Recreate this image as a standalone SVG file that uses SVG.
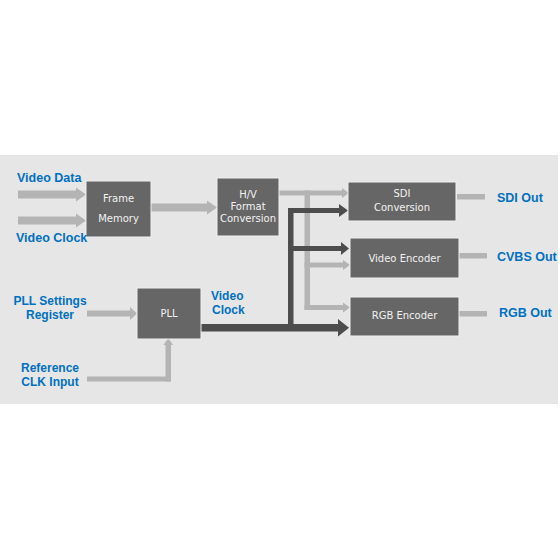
<svg xmlns="http://www.w3.org/2000/svg" width="560" height="560" viewBox="0 0 560 560">
<style>
.box{fill:#666666;stroke:#f0f0f0;stroke-width:1}
.nt{font-family:"DejaVu Sans",Verdana,sans-serif;font-size:10px;fill:#f2f2f2;text-anchor:middle}
.lb{font-family:"Liberation Sans",Arial,sans-serif;font-size:12.5px;font-weight:bold;fill:#0070c0}
.l2{font-size:12px}
.lt{fill:#b4b4b4}
.dk{fill:#4d4d4d}
</style>
<rect x="0" y="155" width="558" height="249" fill="#e6e6e6"/>
<g id="connectors">
  <rect class="lt" x="18" y="190.5" width="59" height="8"/>
  <polygon class="lt" points="76,187.5 86,194.5 76,201.5"/>
  <rect class="lt" x="18" y="216.5" width="59" height="8"/>
  <polygon class="lt" points="76,213.5 86,220.5 76,227.5"/>
  <rect class="lt" x="151" y="203.5" width="57" height="8"/>
  <polygon class="lt" points="207,200.5 217,207.5 207,214.5"/>
  <rect class="lt" x="279" y="190.5" width="64" height="5"/>
  <polygon class="lt" points="342,188 349,193 342,198"/>
  <rect class="lt" x="304.5" y="190.5" width="5.5" height="119.5"/>
  <rect class="lt" x="304.5" y="262.5" width="39" height="5"/>
  <polygon class="lt" points="343,260 350,265 343,270"/>
  <rect class="lt" x="304.5" y="305" width="39" height="5"/>
  <polygon class="lt" points="343,302.5 350,307.5 343,312.5"/>
  <rect class="lt" x="87" y="310.5" width="44" height="6"/>
  <polygon class="lt" points="130,307 137,313.5 130,320"/>
  <rect class="lt" x="87" y="376.5" width="84" height="5"/>
  <rect class="lt" x="165.5" y="344" width="5.5" height="37.5"/>
  <polygon class="lt" points="163.5,345 168.25,338 173,345"/>
  <rect class="dk" x="201" y="324" width="138" height="7.5"/>
  <polygon class="dk" points="338,319 349,327.75 338,336.5"/>
  <rect class="dk" x="288" y="208" width="5.5" height="123"/>
  <rect class="dk" x="288" y="208" width="52" height="5"/>
  <polygon class="dk" points="339,204 348,210.5 339,217"/>
  <rect class="dk" x="288" y="246" width="55" height="5"/>
  <polygon class="dk" points="341,242 349,248.5 341,255"/>
  <rect class="lt" x="457" y="194" width="28" height="5.5"/>
  <rect class="lt" x="459" y="253" width="28" height="5.5"/>
  <rect class="lt" x="459" y="311" width="28" height="5.5"/>
</g>
<g id="frame-memory">
  <rect class="box" x="86" y="181" width="65" height="56"/>
  <text class="nt" x="118.5" y="202">Frame</text>
  <text class="nt" x="118.5" y="222">Memory</text>
</g>
<g id="hv-format">
  <rect class="box" x="217" y="178" width="62" height="58"/>
  <text class="nt" x="248" y="198">H/V</text>
  <text class="nt" x="248" y="210">Format</text>
  <text class="nt" x="248" y="222">Conversion</text>
</g>
<g id="sdi-conversion">
  <rect class="box" x="348" y="182" width="108" height="39"/>
  <text class="nt" x="402" y="197">SDI</text>
  <text class="nt" x="402" y="211">Conversion</text>
</g>
<g id="video-encoder">
  <rect class="box" x="350" y="238" width="109" height="40"/>
  <text class="nt" x="404.5" y="262">Video Encoder</text>
</g>
<g id="rgb-encoder">
  <rect class="box" x="350" y="297" width="109" height="39"/>
  <text class="nt" x="404.5" y="319">RGB Encoder</text>
</g>
<g id="pll">
  <rect class="box" x="137" y="288" width="64" height="51"/>
  <text class="nt" x="169" y="317">PLL</text>
</g>
<g id="labels">
  <text class="lb" x="17" y="182">Video Data</text>
  <text class="lb" x="16" y="242">Video Clock</text>
  <text class="lb l2" x="50" y="305" text-anchor="middle">PLL Settings</text>
  <text class="lb l2" x="50" y="319" text-anchor="middle">Register</text>
  <text class="lb l2" x="50" y="372" text-anchor="middle">Reference</text>
  <text class="lb l2" x="50" y="386" text-anchor="middle">CLK Input</text>
  <text class="lb l2" x="211" y="300">Video</text>
  <text class="lb l2" x="212" y="314">Clock</text>
  <text class="lb" x="497" y="202">SDI Out</text>
  <text class="lb" x="497" y="261">CVBS Out</text>
  <text class="lb" x="499" y="317">RGB Out</text>
</g>
</svg>
